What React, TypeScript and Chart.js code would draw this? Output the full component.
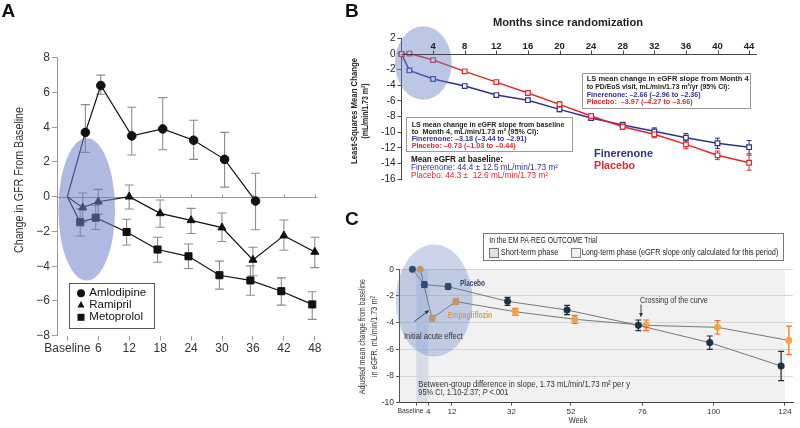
import React, { useEffect, useRef } from 'react';
import { Chart, registerables } from 'chart.js';
Chart.register(...registerables);

// ---------- Panel A data ----------
const aMonths = [0, 3, 6, 12, 18, 24, 30, 36, 42, 48];
const aTickValues = [0, 6, 12, 18, 24, 30, 36, 42, 48];
const aTickLabels = ['Baseline', '6', '12', '18', '24', '30', '36', '42', '48'];
const amlodipine = [0, 3.7, 6.4, 3.5, 3.9, 3.25, 2.15, -0.25];
const amlodipineLow = [0, 2.55, 5.9, 2.4, 2.7, 2.15, 0.55, -1.9];
const amlodipineHigh = [0, 5.3, 7.0, 5.15, 5.7, 4.4, 3.7, 1.35];
const ramipril = [0, -0.63, -0.29, 0.0, -0.96, -1.36, -1.78, -3.64, -2.24, -3.18];
const ramiprilLow = [0, -1.45, -1.0, -0.71, -1.76, -2.12, -2.58, -4.55, -3.08, -4.08];
const ramiprilHigh = [0, 0.21, 0.42, 0.67, -0.19, -0.67, -0.94, -2.91, -1.34, -2.33];
const metoprolol = [0, -1.47, -1.21, -2.03, -3.04, -3.43, -4.52, -4.82, -5.44, -6.2];
const metoprololLow = [0, -2.26, -1.89, -2.78, -3.77, -4.13, -5.32, -5.67, -6.24, -7.06];
const metoprololHigh = [0, -0.7, -0.5, -1.3, -2.33, -2.72, -3.71, -3.98, -4.67, -5.47];

// ---------- Panel B data ----------
const bMonths = [0, 1, 4, 8, 12, 16, 20, 24, 28, 32, 36, 40, 44];
const bTickValues = [4, 8, 12, 16, 20, 24, 28, 32, 36, 40, 44];
const finerenone = [0, -2.1, -3.2, -4.1, -5.25, -5.9, -7.07, -8.18, -9.07, -9.88, -10.7, -11.4, -11.9];
const finerenoneErr = [0, 0.1, 0.15, 0.15, 0.2, 0.25, 0.3, 0.3, 0.35, 0.45, 0.55, 0.65, 0.85];
const placeboB = [0, 0.05, -0.78, -2.22, -3.59, -4.99, -6.43, -7.92, -9.29, -10.26, -11.54, -12.94, -13.88];
const placeboBErr = [0, 0.1, 0.15, 0.2, 0.2, 0.25, 0.35, 0.3, 0.35, 0.45, 0.55, 0.55, 0.95];

// ---------- Panel C data ----------
const cWeeks = [0, 4, 12, 32, 52, 76, 100, 124];
const cTickLabels = ['Baseline', '4', '12', '32', '52', '76', '100', '124'];
const placeboC = [0, -1.15, -1.3, -2.4, -3.05, -4.2, -5.5, -7.25];
const placeboCErr = [0, 0.2, 0.2, 0.3, 0.35, 0.4, 0.5, 1.1];
const empaC = [0, -3.68, -2.42, -3.18, -3.75, -4.2, -4.35, -5.33];
const empaCErr = [0, 0.2, 0.2, 0.25, 0.3, 0.4, 0.5, 1.07];

const FAMILY = '"Liberation Sans", Arial, sans-serif';
const f = (size: number, weight = 'normal', style = 'normal') => `${style} ${weight} ${size}px ${FAMILY}`;

type Part = { t: string; font: string; color: string };
type TextItem = { x: number; y: number; parts: Part[]; w?: number; align?: 'left' | 'center' | 'right'; rot?: number };

function drawTexts(ctx: CanvasRenderingContext2D, items: TextItem[], ox: number, oy: number) {
  items.forEach((it) => {
    ctx.save();
    ctx.translate(it.x - ox, it.y - oy);
    if (it.rot) ctx.rotate(it.rot);
    ctx.textBaseline = 'middle';
    ctx.textAlign = 'left';
    let total = 0;
    const ws = it.parts.map((p) => {
      ctx.font = p.font;
      const w = ctx.measureText(p.t).width;
      total += w;
      return w;
    });
    let sx = it.w ? it.w / total : 1;
    sx = Math.max(0.55, Math.min(1.3, sx));
    const dw = total * sx;
    const start = it.align === 'center' ? -dw / 2 : it.align === 'right' ? -dw : 0;
    ctx.translate(start, 0);
    ctx.scale(sx, 1);
    let cx = 0;
    it.parts.forEach((p, i) => {
      ctx.font = p.font;
      ctx.fillStyle = p.color;
      ctx.fillText(p.t, cx, 0);
      cx += ws[i];
    });
    ctx.restore();
  });
}

function drawBox(ctx: CanvasRenderingContext2D, x1: number, y1: number, x2: number, y2: number, ox: number, oy: number, stroke: string, fill: string) {
  ctx.save();
  ctx.fillStyle = fill;
  ctx.fillRect(x1 - ox, y1 - oy, x2 - x1, y2 - y1);
  ctx.strokeStyle = stroke;
  ctx.lineWidth = 1;
  ctx.strokeRect(Math.round(x1 - ox) + 0.5, Math.round(y1 - oy) + 0.5, Math.round(x2 - x1), Math.round(y2 - y1));
  ctx.restore();
}

function drawArrow(ctx: CanvasRenderingContext2D, x1: number, y1: number, x2: number, y2: number, ox: number, oy: number, color: string) {
  const ax = x1 - ox, ay = y1 - oy, bx = x2 - ox, by = y2 - oy;
  const ang = Math.atan2(by - ay, bx - ax);
  ctx.save();
  ctx.strokeStyle = color;
  ctx.fillStyle = color;
  ctx.lineWidth = 0.9;
  ctx.beginPath();
  ctx.moveTo(ax, ay);
  ctx.lineTo(bx - Math.cos(ang) * 3, by - Math.sin(ang) * 3);
  ctx.stroke();
  ctx.beginPath();
  ctx.moveTo(bx, by);
  ctx.lineTo(bx - Math.cos(ang - 0.4) * 5, by - Math.sin(ang - 0.4) * 5);
  ctx.lineTo(bx - Math.cos(ang + 0.4) * 5, by - Math.sin(ang + 0.4) * 5);
  ctx.closePath();
  ctx.fill();
  ctx.restore();
}

function drawEllipse(chart: any, cx: number, cy: number, rx: number, ry: number, color: string) {
  const xs = chart.scales.x, ys = chart.scales.y, ctx = chart.ctx;
  const px = xs.getPixelForValue(cx), py = ys.getPixelForValue(cy);
  const prx = Math.abs(xs.getPixelForValue(cx + rx) - px);
  const pry = Math.abs(ys.getPixelForValue(cy + ry) - py);
  ctx.save();
  ctx.fillStyle = color;
  ctx.beginPath();
  ctx.ellipse(px, py, prx, pry, 0, 0, Math.PI * 2);
  ctx.fill();
  ctx.restore();
}

function drawErrorBars(chart: any) {
  const ctx = chart.ctx, ys = chart.scales.y;
  chart.data.datasets.forEach((ds: any, di: number) => {
    if (!ds.errLow) return;
    const meta = chart.getDatasetMeta(di);
    meta.data.forEach((pt: any, i: number) => {
      const lo = ds.errLow[i], hi = ds.errHigh[i];
      if (lo == null || hi == null || lo === hi) return;
      const x = pt.x;
      const y1 = ys.getPixelForValue(lo), y2 = ys.getPixelForValue(hi);
      const cap = ds.errCap;
      ctx.save();
      ctx.strokeStyle = ds.errColor;
      ctx.lineWidth = ds.errWidth || 1;
      ctx.beginPath();
      ctx.moveTo(x, y1); ctx.lineTo(x, y2);
      ctx.moveTo(x - cap, y1); ctx.lineTo(x + cap, y1);
      ctx.moveTo(x - cap, y2); ctx.lineTo(x + cap, y2);
      ctx.stroke();
      ctx.restore();
    });
  });
}

// ---------------- Panel A ----------------
function makeA(canvas: HTMLCanvasElement) {
  const OX = 0, OY = 0;
  const series = [
    { label: 'Amlodipine', v: amlodipine, lo: amlodipineLow, hi: amlodipineHigh, style: 'circle', r: 4.3, dodge: 0.5 },
    { label: 'Ramipril', v: ramipril, lo: ramiprilLow, hi: ramiprilHigh, style: 'triangle', r: 4.6, dodge: 0 },
    { label: 'Metoprolol', v: metoprolol, lo: metoprololLow, hi: metoprololHigh, style: 'rect', r: 5, dodge: -0.5 },
  ];
  const datasets = series.map((s) => ({
    label: s.label,
    data: s.v.map((v, i) => ({ x: aMonths[i] + (i ? s.dodge : 0), y: v })),
    errLow: s.lo, errHigh: s.hi, errColor: '#8c8c8c', errCap: 4.5, errWidth: 1.1,
    borderColor: '#111', borderWidth: 1.2, pointStyle: s.style,
    pointRadius: s.v.map((_, i) => (i ? s.r : 0)),
    pointBackgroundColor: '#111', pointBorderColor: '#111', pointBorderWidth: 1,
    tension: 0, fill: false, clip: false,
  }));
  const texts: TextItem[] = [
    { x: 1.5, y: 11.7, parts: [{ t: 'A', font: f(19, 'bold'), color: '#111' }] },
    { x: 19.5, y: 180, rot: -Math.PI / 2, align: 'center', w: 146, parts: [{ t: 'Change in GFR From Baseline', font: f(12.5), color: '#333' }] },
    { x: 89.3, y: 293.3, parts: [{ t: 'Amlodipine', font: f(11.5), color: '#111' }] },
    { x: 89.3, y: 305, parts: [{ t: 'Ramipril', font: f(11.5), color: '#111' }] },
    { x: 89.3, y: 317.3, parts: [{ t: 'Metoprolol', font: f(11.5), color: '#111' }] },
  ];
  const plugin = {
    id: 'panelA',
    beforeDatasetsDraw(chart: any) {
      const ctx = chart.ctx, xs = chart.scales.x, ys = chart.scales.y, ca = chart.chartArea;
      const y0 = Math.round(ys.getPixelForValue(0)) + 0.5;
      ctx.save();
      ctx.strokeStyle = '#9a9a9a';
      ctx.lineWidth = 1;
      ctx.beginPath();
      ctx.moveTo(ca.left, y0); ctx.lineTo(ca.right, y0);
      aTickValues.forEach((v) => {
        const px = Math.round(xs.getPixelForValue(v)) + 0.5;
        ctx.moveTo(px, y0); ctx.lineTo(px, y0 - 3);
      });
      ctx.stroke();
      ctx.restore();
      drawErrorBars(chart);
    },
    afterDatasetsDraw(chart: any) {
      drawEllipse(chart, 3.76, -0.73, 5.49, 4.1, 'rgba(110,128,200,0.55)');
    },
    afterDraw(chart: any) {
      const ctx = chart.ctx;
      drawBox(ctx, 69, 282.7, 153.7, 327.3, OX, OY, '#555', 'rgba(255,255,255,0)');
      ctx.save();
      ctx.fillStyle = '#111';
      ctx.beginPath(); ctx.arc(81 - OX, 293.3 - OY, 4, 0, Math.PI * 2); ctx.fill();
      ctx.beginPath(); ctx.moveTo(81 - OX, 301 - OY); ctx.lineTo(84.5 - OX, 307.5 - OY); ctx.lineTo(77.5 - OX, 307.5 - OY); ctx.closePath(); ctx.fill();
      ctx.fillRect(77.5 - OX, 313.8 - OY, 7, 7);
      ctx.restore();
      drawTexts(ctx, texts, OX, OY);
    },
  };
  return new Chart(canvas, {
    type: 'line',
    data: { datasets: datasets as any },
    options: {
      animation: false, responsive: false, devicePixelRatio: 1, events: [],
      layout: { padding: { left: 0, top: 57.7, right: 340 - 317.4, bottom: 0 } },
      plugins: { legend: { display: false }, tooltip: { enabled: false } },
      scales: {
        x: {
          type: 'linear', min: -2, max: 48.5,
          afterBuildTicks: (s: any) => { s.ticks = aTickValues.map((v) => ({ value: v })); },
          afterFit: (s: any) => { s.height = 428 - 335.7; },
          border: { display: false },
          grid: { drawOnChartArea: false, drawTicks: true, tickLength: 5, color: '#9a9a9a' },
          ticks: { callback: (_v: any, i: number) => aTickLabels[i], font: { family: FAMILY, size: 12 }, color: '#333', padding: 1, maxRotation: 0, autoSkip: false },
        },
        y: {
          type: 'linear', min: -8, max: 8,
          afterFit: (s: any) => { s.width = 57; },
          border: { color: '#9a9a9a' },
          grid: { drawOnChartArea: false, drawTicks: true, tickLength: 5, color: '#9a9a9a' },
          ticks: { stepSize: 2, callback: (v: any) => (v < 0 ? '\u2212' + Math.abs(v) : String(v)), font: { family: FAMILY, size: 12 }, color: '#333', padding: 2 },
        },
      },
    } as any,
    plugins: [plugin],
  });
}

// ---------------- Panel B ----------------
function makeB(canvas: HTMLCanvasElement) {
  const OX = 330, OY = 0;
  const RED = '#e3262b', BLUE = '#2e3192';
  const series = [
    { label: 'Placebo', v: placeboB, e: placeboBErr, color: RED },
    { label: 'Finerenone', v: finerenone, e: finerenoneErr, color: BLUE },
  ];
  const datasets = series.map((s) => ({
    label: s.label,
    data: s.v.map((v, i) => ({ x: bMonths[i], y: v })),
    errLow: s.v.map((v, i) => v - s.e[i]), errHigh: s.v.map((v, i) => v + s.e[i]),
    errColor: s.color, errCap: 2.5, errWidth: 1,
    borderColor: s.color, borderWidth: 1.5, pointStyle: 'rect', pointRadius: 3.3,
    pointBackgroundColor: '#fff', pointBorderColor: s.color, pointBorderWidth: 1.2,
    tension: 0, fill: false, clip: false,
  }));
  const bx = (t: string, col: string): Part => ({ t, font: f(8, 'bold'), color: col });
  const texts: TextItem[] = [
    { x: 345, y: 11.5, parts: [{ t: 'B', font: f(19, 'bold'), color: '#111' }] },
    { x: 568, y: 23, align: 'center', w: 150, parts: [{ t: 'Months since randomization', font: f(11, 'bold'), color: '#222' }] },
    { x: 355, y: 111, rot: -Math.PI / 2, align: 'center', w: 106, parts: [{ t: 'Least-Squares Mean Change', font: f(9, 'bold'), color: '#222' }] },
    { x: 366, y: 111, rot: -Math.PI / 2, align: 'center', w: 55, parts: [{ t: '(mL/min/1.73 m\u00b2)', font: f(9, 'bold'), color: '#222' }] },
    { x: 586.7, y: 79, w: 162, parts: [bx('LS mean change in eGFR slope from Month 4', '#222')] },
    { x: 586.7, y: 86.7, w: 143, parts: [bx('to PD/EoS visit, mL/min/1.73 m\u00b2/yr (95% CI):', '#222')] },
    { x: 586.7, y: 94.3, w: 114, parts: [bx('Finerenone: \u20132.66 (\u20132.96 to \u20132.36)', BLUE)] },
    { x: 586.7, y: 102, w: 106, parts: [bx('Placebo:  \u20133.97 (\u20134.27 to \u20133.66)', RED)] },
    { x: 411.7, y: 124.3, w: 152.6, parts: [bx('LS mean change in eGFR slope from baseline', '#222')] },
    { x: 411.7, y: 131.7, w: 127, parts: [bx('to  Month 4, mL/min/1.73 m\u00b2 (95% CI):', '#222')] },
    { x: 411.7, y: 138.3, w: 115, parts: [bx('Finerenone: \u20133.18 (\u20133.44 to \u20132.91)', BLUE)] },
    { x: 411.7, y: 146, w: 104, parts: [bx('Placebo: \u20130.73 (\u20131.03 to \u20130.44)', RED)] },
    { x: 411, y: 159.3, w: 92, parts: [{ t: 'Mean eGFR at baseline:', font: f(9, 'bold'), color: '#111' }] },
    { x: 411, y: 167.3, w: 147, parts: [{ t: 'Finerenone: 44.4 \u00b1 12.5 mL/min/1.73 m\u00b2', font: f(8.5), color: BLUE }] },
    { x: 411, y: 175.7, w: 137, parts: [{ t: 'Placebo: 44.3 \u00b1  12.6 mL/min/1.73 m\u00b2', font: f(8.5), color: RED }] },
    { x: 594, y: 154, w: 59, parts: [{ t: 'Finerenone', font: f(11, 'bold'), color: BLUE }] },
    { x: 594, y: 165.7, w: 41, parts: [{ t: 'Placebo', font: f(11, 'bold'), color: RED }] },
  ];
  const plugin = {
    id: 'panelB',
    beforeDatasetsDraw(chart: any) {
      drawErrorBars(chart);
    },
    afterDatasetsDraw(chart: any) {
      drawEllipse(chart, 2.76, -1.15, 3.6, 4.7, 'rgba(110,128,200,0.45)');
      const ctx = chart.ctx, xs = chart.scales.x, ys = chart.scales.y, ca = chart.chartArea;
      const y0 = Math.round(ys.getPixelForValue(0)) + 0.5;
      ctx.save();
      ctx.strokeStyle = '#444';
      ctx.lineWidth = 1;
      ctx.beginPath();
      ctx.moveTo(ca.left, y0); ctx.lineTo(ca.right, y0);
      bTickValues.forEach((v) => {
        const px = Math.round(xs.getPixelForValue(v)) + 0.5;
        ctx.moveTo(px, y0); ctx.lineTo(px, y0 - 4);
      });
      ctx.stroke();
      ctx.fillStyle = '#222';
      ctx.font = f(9.5, 'bold');
      ctx.textAlign = 'center';
      ctx.textBaseline = 'middle';
      bTickValues.forEach((v) => {
        ctx.fillText(String(v), xs.getPixelForValue(v), y0 - 8);
      });
      ctx.restore();
    },
    afterDraw(chart: any) {
      const ctx = chart.ctx;
      drawBox(ctx, 581.7, 72.7, 750, 107.3, OX, OY, '#9a9a9a', '#fff');
      drawBox(ctx, 405.7, 117.3, 571.7, 151.7, OX, OY, '#9a9a9a', '#fff');
      drawTexts(ctx, texts, OX, OY);
    },
  };
  return new Chart(canvas, {
    type: 'line',
    data: { datasets: datasets as any },
    options: {
      animation: false, responsive: false, devicePixelRatio: 1, events: [],
      layout: { padding: { left: 0, top: 38.3, right: 470 - (757 - 330), bottom: 200 - 179.3 } },
      plugins: { legend: { display: false }, tooltip: { enabled: false } },
      scales: {
        x: { type: 'linear', min: 0, max: 45, display: false },
        y: {
          type: 'linear', min: -16, max: 2,
          afterFit: (s: any) => { s.width = 401.5 - 330; },
          border: { color: '#444' },
          grid: { drawOnChartArea: false, drawTicks: true, tickLength: 4, color: '#444' },
          ticks: { stepSize: 2, font: { family: FAMILY, size: 10 }, color: '#222', padding: 2 },
        },
      },
    } as any,
    plugins: [plugin],
  });
}

// ---------------- Panel C ----------------
function makeC(canvas: HTMLCanvasElement) {
  const OX = 330, OY = 200;
  const series = [
    { label: 'Placebo', v: placeboC, e: placeboCErr, color: '#173446', err: '#2a2a2a', dodge: -1.3 },
    { label: 'Empagliflozin', v: empaC, e: empaCErr, color: '#f5a33c', err: '#f26b2c', dodge: 1.3 },
  ];
  const datasets = series.map((s) => ({
    label: s.label,
    data: s.v.map((v, i) => ({ x: cWeeks[i] + s.dodge, y: v })),
    errLow: s.v.map((v, i) => v - s.e[i]), errHigh: s.v.map((v, i) => v + s.e[i]),
    errColor: s.err, errCap: 3, errWidth: 1.2,
    borderColor: '#6b6b6b', borderWidth: 0.9, pointStyle: 'circle', pointRadius: 3.3,
    pointBackgroundColor: s.color, pointBorderColor: s.color, pointBorderWidth: 0.5,
    tension: 0, fill: false, clip: false,
  }));
  const tc = '#333';
  const texts: TextItem[] = [
    { x: 345, y: 220, parts: [{ t: 'C', font: f(19, 'bold'), color: '#111' }] },
    { x: 489.3, y: 240.7, w: 108, parts: [{ t: 'In the EM PA-REG OUTCOME Trial', font: f(9), color: '#222' }] },
    { x: 500.7, y: 252.3, w: 57.7, parts: [{ t: 'Short-term phase', font: f(9), color: '#222' }] },
    { x: 581.7, y: 252.3, w: 196.6, parts: [{ t: 'Long-term phase (eGFR slope only calculated for this period)', font: f(9), color: '#222' }] },
    { x: 460, y: 283.7, w: 25, parts: [{ t: 'Placebo', font: f(9, 'bold'), color: '#2c4a6e' }] },
    { x: 447.7, y: 316, w: 44.6, parts: [{ t: 'Empagliflozin', font: f(9, 'bold'), color: '#e9973c' }] },
    { x: 404, y: 336.5, w: 58.7, parts: [{ t: 'Initial acute effect', font: f(9), color: tc }] },
    { x: 640, y: 301, w: 67.7, parts: [{ t: 'Crossing of the curve', font: f(9), color: tc }] },
    { x: 418.3, y: 384.3, w: 211.7, parts: [{ t: 'Between-group difference in slope, 1.73 mL/min/1.73 m\u00b2 per y', font: f(9), color: tc }] },
    { x: 418.3, y: 392.7, w: 90, parts: [
      { t: '95% CI, 1.10-2.37; ', font: f(9), color: tc },
      { t: 'P', font: f(9, 'normal', 'italic'), color: tc },
      { t: ' <.001', font: f(9), color: tc },
    ] },
    { x: 410.5, y: 410.5, align: 'center', w: 26, parts: [{ t: cTickLabels[0], font: f(8), color: '#333' }] },
    { x: 578, y: 420.7, align: 'center', w: 18.7, parts: [{ t: 'Week', font: f(9), color: tc }] },
    { x: 363, y: 336.7, rot: -Math.PI / 2, align: 'center', w: 115, parts: [{ t: 'Adjusted mean change from baseline', font: f(9), color: tc }] },
    { x: 375, y: 336.7, rot: -Math.PI / 2, align: 'center', w: 81, parts: [{ t: 'in eGFR, mL/min/1.73 m\u00b2', font: f(9), color: tc }] },
  ];
  const plugin = {
    id: 'panelC',
    beforeDraw(chart: any) {
      const ctx = chart.ctx, xs = chart.scales.x, ca = chart.chartArea;
      ctx.save();
      ctx.fillStyle = '#f1f1f1';
      ctx.fillRect(ca.left, ca.top, xs.getPixelForValue(124) - ca.left, ca.bottom - ca.top);
      ctx.fillStyle = 'rgba(170,188,218,0.38)';
      const b0 = xs.getPixelForValue(0), b4 = xs.getPixelForValue(4);
      ctx.fillRect(b0, ca.top, b4 - b0, ca.bottom - ca.top);
      ctx.restore();
    },
    beforeDatasetsDraw(chart: any) {
      drawErrorBars(chart);
    },
    afterDatasetsDraw(chart: any) {
      drawEllipse(chart, 6.0, -2.34, 12.9, 4.2, 'rgba(90,125,195,0.32)');
    },
    afterDraw(chart: any) {
      const ctx = chart.ctx;
      drawBox(ctx, 483.3, 233.3, 783.3, 260.7, OX, OY, '#777', '#fff');
      drawBox(ctx, 489, 247.7, 498.3, 257, OX, OY, '#777', '#dde3ec');
      drawBox(ctx, 570.7, 247.7, 580, 257, OX, OY, '#888', '#f2f2f2');
      drawArrow(ctx, 414.3, 321.7, 429.3, 310, OX, OY, '#333');
      drawArrow(ctx, 641, 304.5, 641, 317.5, OX, OY, '#333');
      drawTexts(ctx, texts, OX, OY);
    },
  };
  return new Chart(canvas, {
    type: 'line',
    data: { datasets: datasets as any },
    options: {
      animation: false, responsive: false, devicePixelRatio: 1, events: [],
      layout: { padding: { left: 0, top: 269.3 - 200, right: 470 - (793 - 330), bottom: 0 } },
      plugins: { legend: { display: false }, tooltip: { enabled: false } },
      scales: {
        x: {
          type: 'linear', min: -5.82, max: 126.7,
          afterBuildTicks: (s: any) => { s.ticks = cWeeks.map((v) => ({ value: v })); },
          afterFit: (s: any) => { s.height = 228 - (402.7 - 200); },
          border: { color: '#444' },
          grid: { drawOnChartArea: false, drawTicks: true, tickLength: 3, color: '#555' },
          ticks: { callback: (_v: any, i: number) => (i === 0 ? '' : cTickLabels[i]), font: { family: FAMILY, size: 8 }, color: '#333', padding: 1, maxRotation: 0, autoSkip: false },
        },
        y: {
          type: 'linear', min: -10, max: 0,
          afterFit: (s: any) => { s.width = 399 - 330; },
          border: { color: '#555' },
          grid: {
            drawOnChartArea: true, drawTicks: true, tickLength: 3, tickColor: '#555',
            color: (c: any) => (c.tick && c.tick.value === -10 ? 'rgba(0,0,0,0)' : '#d6d6d6'),
          },
          ticks: { stepSize: 2, font: { family: FAMILY, size: 8.5 }, color: '#333', padding: 2 },
        },
      },
    } as any,
    plugins: [plugin],
  });
}

export default function App() {
  const aRef = useRef<HTMLCanvasElement>(null);
  const bRef = useRef<HTMLCanvasElement>(null);
  const cRef = useRef<HTMLCanvasElement>(null);
  useEffect(() => {
    const charts: Chart[] = [];
    if (aRef.current) charts.push(makeA(aRef.current));
    if (bRef.current) charts.push(makeB(bRef.current));
    if (cRef.current) charts.push(makeC(cRef.current));
    return () => charts.forEach((c) => c.destroy());
  }, []);
  return (
    <div style={{ position: 'absolute', left: 0, top: 0, width: 800, height: 428, background: '#fff', overflow: 'hidden' }}>
      <canvas ref={aRef} width={340} height={428} style={{ position: 'absolute', left: 0, top: 0 }} />
      <canvas ref={bRef} width={470} height={200} style={{ position: 'absolute', left: 330, top: 0 }} />
      <canvas ref={cRef} width={470} height={228} style={{ position: 'absolute', left: 330, top: 200 }} />
    </div>
  );
}
